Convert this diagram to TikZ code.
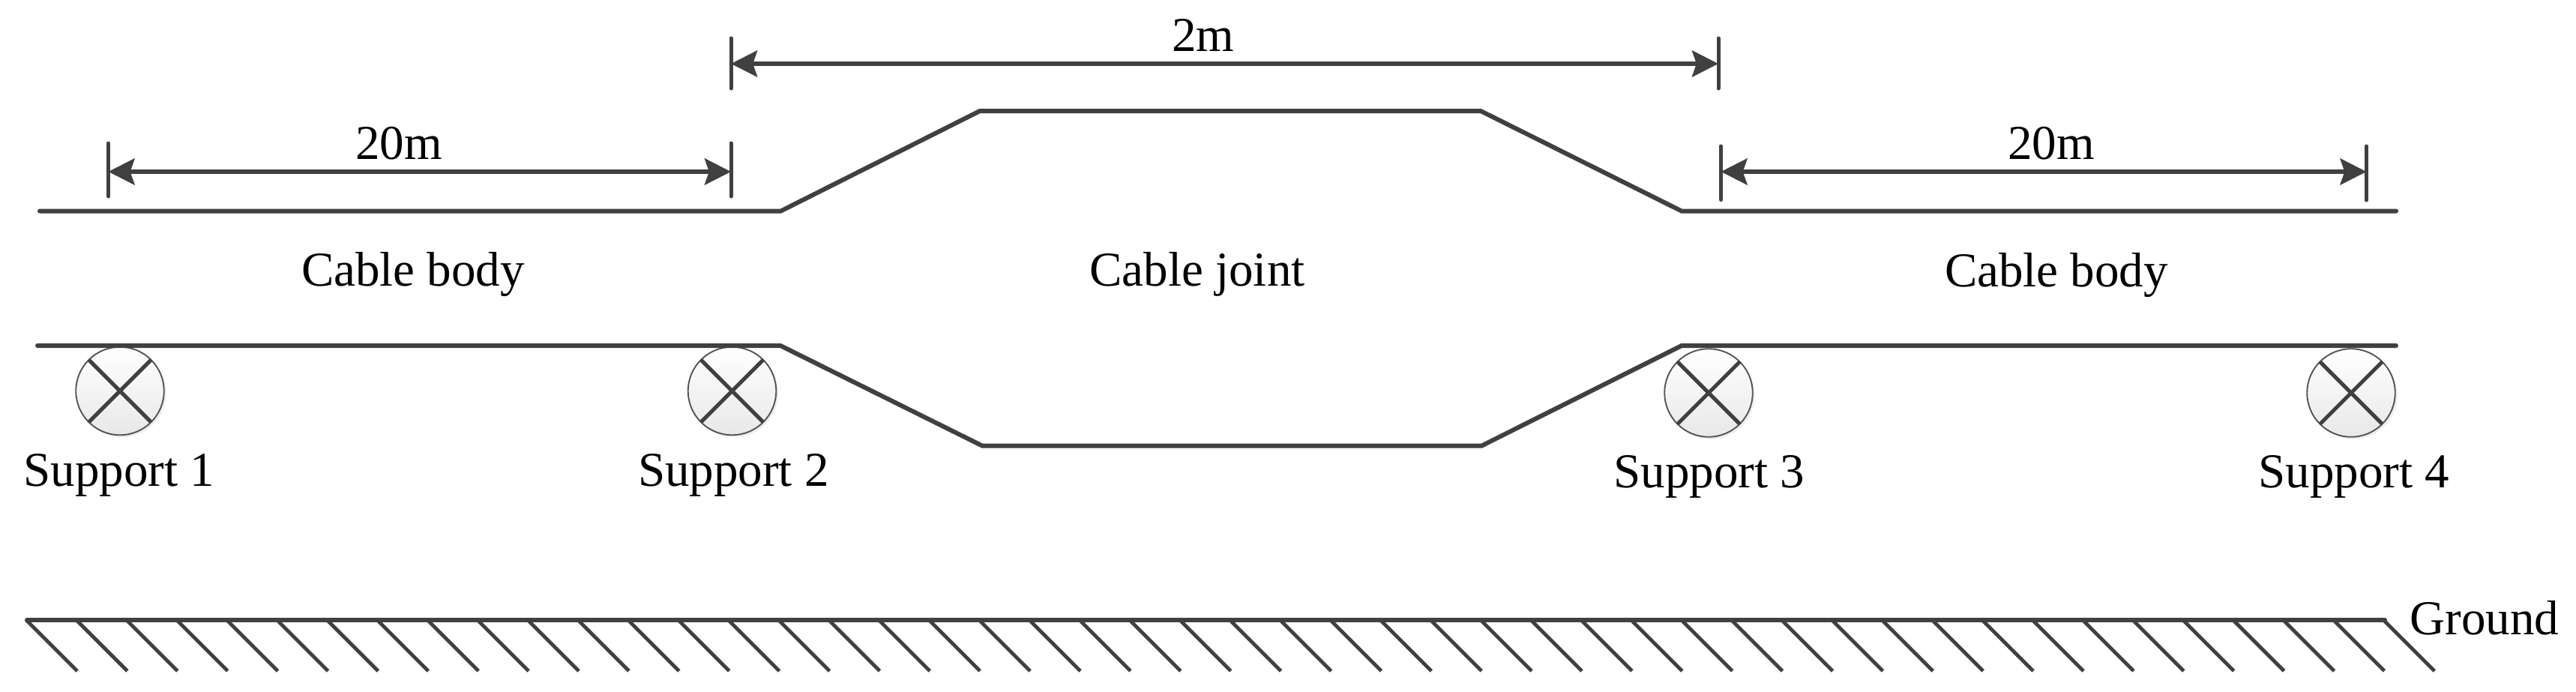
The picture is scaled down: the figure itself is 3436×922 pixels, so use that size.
\documentclass[tikz,border=0pt]{standalone}
\usepackage{fontspec}
\setmainfont{Liberation Serif}
\usetikzlibrary{arrows.meta,shadows}
\definecolor{ink}{HTML}{404040}
\tikzset{
  cable/.style={draw=ink,line width=1.44pt,line join=miter,line cap=round},
  tick/.style={draw=ink,line width=1.2pt,line cap=round},
  dim/.style={draw=ink,line width=1.4pt,{Stealth[length=8.4pt,width=8.4pt,inset=1.4pt]}-{Stealth[length=8.4pt,width=8.4pt,inset=1.4pt]}},
  hatch/.style={draw=ink,line width=1.15pt},
  roller/.style={circle,draw=ink!90,line width=.45pt,minimum size=28.2pt,inner sep=0pt,outer sep=0pt,
    top color=white,bottom color=black!9,
    general shadow={shadow xshift=.7pt,shadow yshift=-.7pt,fill=black,opacity=.07}},
  cross/.style={draw=ink,line width=1.2pt},
  lab/.style={anchor=base,inner sep=0pt,outer sep=0pt,font=\fontsize{15.6pt}{18pt}\selectfont,text=black}
}
\begin{document}
\begin{tikzpicture}[x=0.24pt,y=-0.24pt]
\useasboundingbox (0,0) rectangle (3436,922);
% cable outline
\coordinate (tl) at (53,281.5);
\coordinate (ta) at (1041.5,281.5);
\coordinate (tb) at (1307,148);
\coordinate (tc) at (1975,148);
\coordinate (td) at (2243,281.5);
\coordinate (tr) at (3196,281.5);
\coordinate (bl) at (50,461);
\coordinate (ba) at (1041,461);
\coordinate (bb) at (1310,594.5);
\coordinate (bc) at (1976.5,594.5);
\coordinate (bd) at (2243,461);
\coordinate (br) at (3196,461);
% supports
\node[roller] (s1) at (160,521.5) {};
\node[roller] (s2) at (976.5,521.5) {};
\node[roller] (s3) at (2279,524) {};
\node[roller] (s4) at (3136,524) {};
\foreach \s in {s1,s2,s3,s4}{
  \draw[cross] (\s.45) -- (\s.225);
  \draw[cross] (\s.135) -- (\s.315);
}
\draw[cable] (tl) -- (ta) -- (tb) -- (tc) -- (td) -- (tr);
\draw[cable] (bl) -- (ba) -- (bb) -- (bc) -- (bd) -- (br);
% dimension ticks
\coordinate (a1) at (144.5,191); \coordinate (a2) at (144.5,262);
\coordinate (b1) at (975,191);   \coordinate (b2) at (975,262);
\coordinate (c1) at (975,51);    \coordinate (c2) at (975,118);
\coordinate (d1) at (2292,51);   \coordinate (d2) at (2292,118);
\coordinate (e1) at (2295.5,195);\coordinate (e2) at (2295.5,266.5);
\coordinate (f1) at (3156.5,195);\coordinate (f2) at (3156.5,267);
\foreach \p in {a,b,c,d,e,f}{\draw[tick] (\p1) -- (\p2);}
\coordinate (ga) at (144.5,229); \coordinate (gb) at (975,229);
\coordinate (hc) at (975,85);    \coordinate (hd) at (2292,85);
\coordinate (ie) at (2295.5,229);\coordinate (if) at (3156.5,229);
\draw[dim] (ga) -- (gb);
\draw[dim] (hc) -- (hd);
\draw[dim] (ie) -- (if);
% ground
\coordinate (gl) at (36,827);
\coordinate (gr) at (3181,827);
\draw[cable] (gl) -- (gr);
\foreach \i in {0,...,47}{
  \draw[hatch] (35+66.9*\i,827) -- (103+66.9*\i,895);
}
% labels
\node[lab] (t20a) at (532,212.5) {20m};
\node[lab] (t2) at (1605,68) {2m};
\node[lab] (t20b) at (2736,212.5) {20m};
\node[lab] (cb1) at (551,381) {Cable body};
\node[lab] (cj) at (1597,381) {Cable joint};
\node[lab] (cb2) at (2743,382) {Cable body};
\node[lab] (l1) at (159,648) {Support 1};
\node[lab] (l2) at (978.5,648) {Support 2};
\node[lab] (l3) at (2280,650) {Support 3};
\node[lab] (l4) at (3140,650) {Support 4};
\node[lab] (lg) at (3314,846) {Ground};
\end{tikzpicture}
\end{document}
